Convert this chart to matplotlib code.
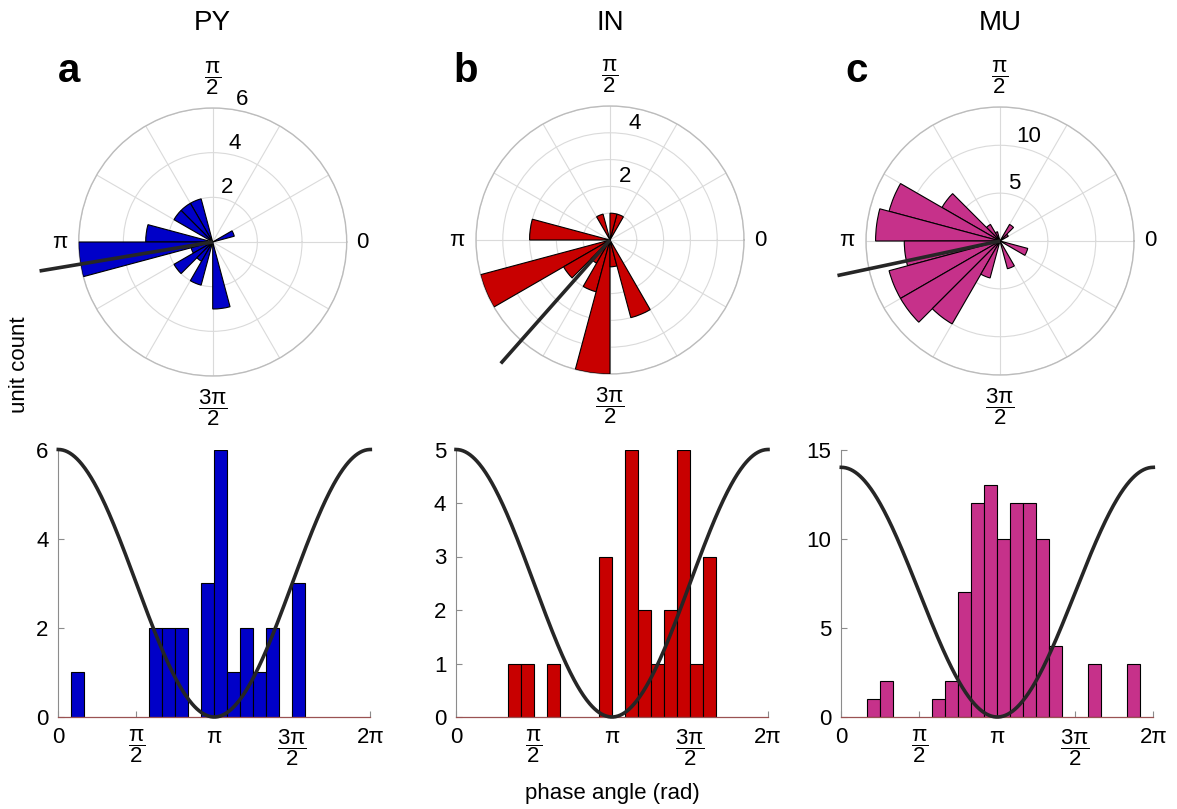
import numpy as np
import matplotlib
matplotlib.use("Agg")
import matplotlib.pyplot as plt

plt.rcParams["font.family"] = ["Liberation Sans", "DejaVu Sans"]
plt.rcParams["mathtext.fontset"] = "custom"
plt.rcParams["mathtext.rm"] = "Liberation Sans"
plt.rcParams["mathtext.it"] = "Liberation Sans"
plt.rcParams["mathtext.bf"] = "Liberation Sans:bold"

# ---- data -----------------------------------------------------------------
groups = ["PY", "IN", "MU"]
panel_letters = ["a", "b", "c"]
bar_colors = ["#0000c8", "#c80000", "#c6318a"]

n_bins = 24  # 15-degree phase bins over one cycle
py_counts = [0, 1, 0, 0, 0, 0, 0, 2, 2, 2, 0, 3, 6, 1, 2, 1, 2, 0, 3, 0, 0, 0, 0, 0]
in_counts = [0, 0, 0, 0, 1, 1, 0, 1, 0, 0, 0, 3, 0, 5, 2, 1, 2, 5, 1, 3, 0, 0, 0, 0]
mu_counts = [0, 0, 1, 2, 0, 0, 0, 1, 2, 7, 12, 13, 10, 12, 12, 10, 4, 0, 0, 3, 0, 0, 3, 0]
all_counts = [py_counts, in_counts, mu_counts]

mean_phase_deg = [189.5, 228.5, 192.0]      # preferred phase of each population
mean_line_extent = [1.31, 1.23, 1.24]       # length of the phase line (x rmax)

polar_rmax = [6, 5, 14]
polar_rticks = [[2, 4, 6], [1, 2, 3, 4, 5], [5, 10, 14]]
polar_rlabels = [["2", "4", "6"], ["", "2", "", "4", ""], ["5", "10", ""]]

hist_ymax = [6, 5, 15]
hist_yticks = [[0, 2, 4, 6], [0, 1, 2, 3, 4, 5], [0, 5, 10, 15]]
cosine_peak = [6, 5, 14]

phase_ticks = [0, np.pi / 2, np.pi, 3 * np.pi / 2, 2 * np.pi]
phase_labels = ["0", r"$\dfrac{\pi}{2}$", "π", r"$\dfrac{3\pi}{2}$", "2π"]

# ---- figure ---------------------------------------------------------------
W, H = 1177, 809
fig = plt.figure(figsize=(W / 100, H / 100), dpi=100)


def px_rect(left, top, width, height):
    return [left / W, 1 - (top + height) / H, width / W, height / H]


polar_centers = [(212.7, 242.0), (610.0, 240.0), (1000.0, 241.0)]
polar_radius = 134.0
hist_lefts = [58.3, 456.0, 841.3]
hist_width = 312.0
hist_top, hist_bottom = 449.5, 717.0

bin_width = 2 * np.pi / n_bins
bin_edges = np.arange(n_bins) * bin_width
grid_color = "#dadada"
axis_gray = "#8c8c8c"
line_color = "#262626"

# angular labels of the rose plots: (angle, text, radial offset as x rmax)
compass_labels = [
    (0.0, "0", 1.12),
    (np.pi / 2, r"$\dfrac{\pi}{2}$", 1.225),
    (np.pi, "π", 1.14),
    (3 * np.pi / 2, r"$\dfrac{3\pi}{2}$", 1.235),
]

for i in range(3):
    counts = np.array(all_counts[i])
    nz = counts > 0

    # -------- rose plot --------
    cx, cy = polar_centers[i]
    axp = fig.add_axes(px_rect(cx - polar_radius, cy - polar_radius,
                               2 * polar_radius, 2 * polar_radius),
                       projection="polar")
    axp.bar(bin_edges[nz], counts[nz], width=bin_width, align="edge",
            color=bar_colors[i], edgecolor="black", linewidth=0.8, zorder=3)
    th = np.deg2rad(mean_phase_deg[i])
    axp.plot([th, th], [0, mean_line_extent[i] * polar_rmax[i]],
             color=line_color, lw=2.6, clip_on=False, zorder=6,
             solid_capstyle="butt")
    axp.set_ylim(0, polar_rmax[i])
    axp.set_yticks(polar_rticks[i])
    axp.set_yticklabels(polar_rlabels[i], fontsize=16)
    axp.set_rlabel_position(80)
    axp.set_xticks(np.deg2rad(np.arange(0, 360, 30)))
    axp.set_xticklabels([])
    for ang, txt, off in compass_labels:
        axp.text(ang, off * polar_rmax[i], txt, ha="center", va="center",
                 fontsize=16, clip_on=False)
    axp.grid(True, color=grid_color, lw=0.8)
    axp.spines["polar"].set_color("#bcbcbc")
    axp.spines["polar"].set_linewidth(1.0)
    axp.set_axisbelow(True)

    # -------- linear histogram --------
    axh = fig.add_axes(px_rect(hist_lefts[i], hist_top, hist_width,
                               hist_bottom - hist_top))
    axh.bar(bin_edges[nz], counts[nz], width=bin_width, align="edge",
            color=bar_colors[i], edgecolor="black", linewidth=0.8, zorder=2)
    xs = np.linspace(0, 2 * np.pi, 400)
    axh.plot(xs, cosine_peak[i] * (1 + np.cos(xs)) / 2, color=line_color,
             lw=2.6, zorder=4, clip_on=False)
    axh.set_xlim(0, 2 * np.pi)
    axh.set_ylim(0, hist_ymax[i])
    axh.set_xticks(phase_ticks)
    axh.set_xticklabels(phase_labels, fontsize=16)
    axh.set_yticks(hist_yticks[i])
    axh.set_yticklabels([str(v) for v in hist_yticks[i]], fontsize=16)
    axh.tick_params(direction="in", length=4, width=0.8, color=axis_gray,
                    pad=7)
    for side in ("top", "right"):
        axh.spines[side].set_visible(False)
    axh.spines["left"].set_color(axis_gray)
    axh.spines["left"].set_linewidth(0.8)
    axh.spines["bottom"].set_color("#9a5252")
    axh.spines["bottom"].set_linewidth(0.9)

    # column title and panel letter
    fig.text(cx / W, 1 - 30 / H, groups[i], ha="center", va="baseline",
             fontsize=20)
    letter_x = [69, 466, 857][i]
    fig.text(letter_x / W, 1 - 82 / H, panel_letters[i], ha="center",
             va="baseline", fontsize=29, fontweight="bold")

fig.text(20 / W, 1 - 365 / H, "unit count", rotation=90, ha="center",
         va="center", fontsize=16)
fig.text(612 / W, 1 - 793 / H, "phase angle (rad)", ha="center",
         va="center", fontsize=16)

fig.savefig("out.png", dpi=100, facecolor="white")
